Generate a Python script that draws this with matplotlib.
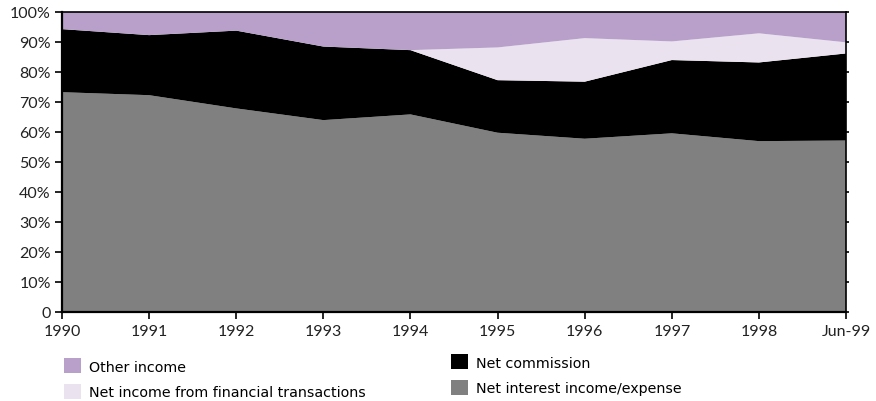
import matplotlib.pyplot as plt
from matplotlib.patches import Patch
from matplotlib.ticker import FuncFormatter
import numpy as np

# Share of total income by component (%)
periods = ['1990', '1991', '1992', '1993', '1994', '1995', '1996', '1997', '1998', 'Jun-99']
net_interest = [73.2, 72.2, 67.8, 63.9, 65.8, 59.7, 57.7, 59.5, 56.9, 57.1]
net_commission = [21.0, 20.0, 25.9, 24.5, 21.4, 17.5, 19.0, 24.4, 26.2, 29.0]
net_financial = [0.0, 0.0, 0.0, 0.0, 0.0, 10.9, 14.5, 6.2, 9.7, 3.7]
other_income = [5.8, 7.8, 6.3, 11.6, 12.8, 11.9, 8.8, 9.9, 7.2, 10.2]

labels = ['Net interest income/expense', 'Net commission',
          'Net income from financial transactions', 'Other income']
colors = ['#808080', '#000000', '#EAE2EF', '#B8A0CA']

x = np.arange(len(periods))

fig = plt.figure(figsize=(8.76, 4.02), dpi=100)
ax = fig.add_axes([0.0708, 0.2214, 0.895, 0.747])

ax.stackplot(x, net_interest, net_commission, net_financial, other_income,
             colors=colors, linewidth=0)

ax.set_xlim(0, len(periods) - 1)
ax.set_ylim(0, 100)
ax.set_xticks(x)
ax.set_xticklabels(periods)
ax.set_yticks(np.arange(0, 101, 10))
ax.yaxis.set_major_formatter(FuncFormatter(lambda v, p: '0' if v == 0 else f'{int(v)}%'))

for lab in ax.get_xticklabels() + ax.get_yticklabels():
    lab.set_fontfamily('Lato')
    lab.set_fontsize(11.5)
    lab.set_color('#222222')

ax.tick_params(axis='x', direction='out', length=5, width=1.2, pad=4)
ax.tick_params(axis='y', which='both', direction='out', length=5, width=1.2, pad=3)
# short marks on the right-hand frame
ax.tick_params(axis='y', right=True, labelright=False)
for t in ax.yaxis.get_major_ticks():
    t.tick2line.set_markersize(2.5)
for side in ['left', 'bottom']:
    ax.spines[side].set_linewidth(1.6)
for side in ['top', 'right']:
    ax.spines[side].set_linewidth(1.2)

# Legend in two columns below the chart
handles = [Patch(facecolor=c, edgecolor='none') for c in colors]
leg_kw = dict(frameon=False, handlelength=1.2, handleheight=1.2,
              handletextpad=0.6, labelspacing=0.72, borderaxespad=0,
              prop={'family': 'DejaVu Sans', 'size': 10.3})
fig.legend([handles[3], handles[2]], [labels[3], labels[2]],
           loc='upper left', bbox_to_anchor=(0.066, 0.12), **leg_kw)
fig.legend([handles[1], handles[0]], [labels[1], labels[0]],
           loc='upper left', bbox_to_anchor=(0.508, 0.13), **leg_kw)

fig.savefig('out.png', dpi=100)
